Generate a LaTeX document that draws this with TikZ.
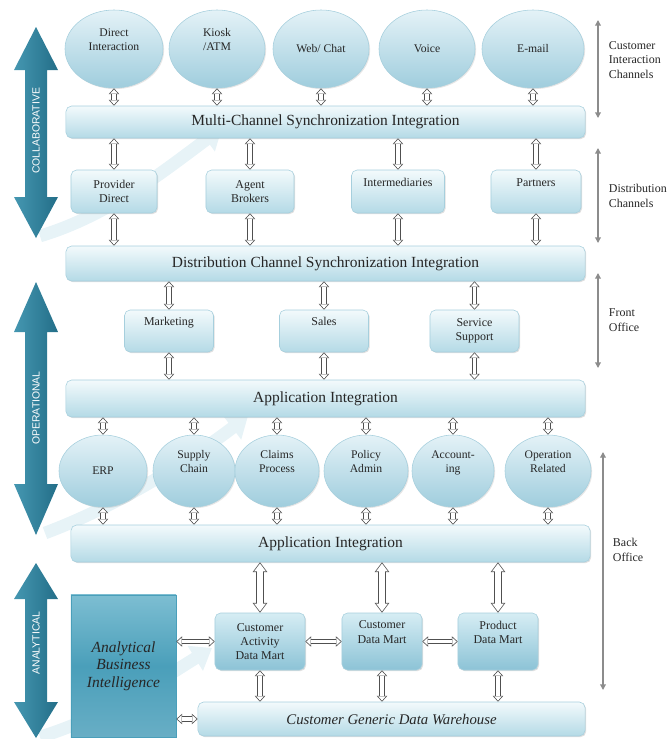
\documentclass[tikz,border=0pt]{standalone}
\usepackage{fontspec}
\setmainfont{Liberation Serif}
\newfontfamily\arrowfont{Liberation Sans}
\usepackage{tikz}
\usetikzlibrary{positioning}
\usetikzlibrary{shapes.geometric,arrows.meta,shadows}

\definecolor{boxtop}{HTML}{F3FAFC}
\definecolor{boxbot}{HTML}{B4DAE6}
\definecolor{boxline}{HTML}{A6CFDD}
\definecolor{elltop}{HTML}{E4F2F7}
\definecolor{ellbot}{HTML}{9FCDDD}
\definecolor{marttop}{HTML}{D6EDF4}
\definecolor{martbot}{HTML}{8CC3D6}
\definecolor{abitop}{HTML}{7DBED2}
\definecolor{abimid}{HTML}{4A9FBA}
\definecolor{abibot}{HTML}{68AEC5}
\definecolor{arrowdark}{HTML}{236E88}
\definecolor{arrowlight}{HTML}{4597B1}
\definecolor{linkgray}{HTML}{505050}
\definecolor{spangray}{HTML}{8C8C8C}
\definecolor{textgray}{HTML}{262626}
\definecolor{swooshblue}{HTML}{E7F3F7}

\tikzset{
  box/.style={rectangle, rounded corners=4pt, draw=boxline, top color=boxtop, bottom color=boxbot,
    align=center, inner sep=0pt, text=textgray, font=\fontsize{8.5}{10.2}\selectfont,
    drop shadow={opacity=0.25, shadow xshift=0.8pt, shadow yshift=-0.8pt}},
  bar/.style={box, minimum width=12.975cm, font=\fontsize{11}{13}\selectfont},
  chan/.style={ellipse, draw=boxline, top color=elltop, bottom color=ellbot, inner sep=0pt,
    align=center, text=textgray, font=\fontsize{8.3}{10.2}\selectfont,
    drop shadow={opacity=0.2, shadow xshift=0.8pt, shadow yshift=-0.8pt}},
  mart/.style={box, top color=marttop, bottom color=martbot, minimum height=1.425cm},
  link/.style={draw=linkgray, line width=3.8pt,
    {Triangle[length=4.2pt,width=7.6pt,line width=0pt]}-{Triangle[length=4.2pt,width=7.6pt,line width=0pt]},
    postaction={draw=white, line width=2.4pt, shorten >=0.8pt, shorten <=0.8pt,
      {Triangle[length=3pt,width=5.4pt,line width=0pt]}-{Triangle[length=3pt,width=5.4pt,line width=0pt]}}},
  biglink/.style={draw=linkgray, line width=5.6pt,
    {Triangle[length=7pt,width=10.5pt,line width=0pt]}-{Triangle[length=7pt,width=10.5pt,line width=0pt]},
    postaction={draw=white, line width=4.2pt, shorten >=0.9pt, shorten <=0.9pt,
      {Triangle[length=5.6pt,width=8.4pt,line width=0pt]}-{Triangle[length=5.6pt,width=8.4pt,line width=0pt]}}},
  span/.style={draw=spangray, line width=0.9pt,
    {Triangle[length=4pt,width=4pt]}-{Triangle[length=4pt,width=4pt]}},
  sidelabel/.style={anchor=west, align=left, text=textgray, font=\fontsize{8.5}{10.3}\selectfont},
  bigarrow/.style={left color=arrowlight, right color=arrowdark},
  arrowtext/.style={rotate=90, text=white, font=\arrowfont\fontsize{7.4}{9}\selectfont},
  swoosh/.style={draw=swooshblue, line width=9pt, -{Triangle[length=14pt,width=20pt]}}
}

\begin{document}
\begin{tikzpicture}[x=0.025cm, y=-0.025cm]
\useasboundingbox (0,0) rectangle (669,739);

% faint swooshes behind the layers
\draw[swoosh] (40,236) .. controls (110,215) and (165,170) .. (222,128);
\draw[swoosh] (45,533) .. controls (120,505) and (190,460) .. (248,416);
\draw[swoosh] (40,737) .. controls (110,715) and (160,680) .. (212,648);

% big arrows on the left
\path[bigarrow] (36,27) -- (58,70) -- (47,70) -- (47,197) -- (58,197) -- (36,238)
  -- (14,197) -- (25,197) -- (25,70) -- (14,70) -- cycle;
\path[bigarrow] (36,282) -- (58,332) -- (47,332) -- (47,484) -- (58,484) -- (36,535)
  -- (14,484) -- (25,484) -- (25,332) -- (14,332) -- cycle;
\path[bigarrow] (36,563) -- (58,599) -- (47,599) -- (47,702) -- (58,702) -- (36,738)
  -- (14,702) -- (25,702) -- (25,599) -- (14,599) -- cycle;
\node (collab) [arrowtext] at (36,131) {COLLABORATIVE};
\node (oper) [arrowtext] at (36,408) {OPERATIONAL};
\node (analyt) [arrowtext] at (36,643) {ANALYTICAL};

% customer interaction channels
\node (ci1) [chan, minimum width=2.45cm, minimum height=1.95cm] at (114,49) {Direct\\Interaction\\\strut};
\node (ci2) [chan, minimum width=2.4cm, minimum height=1.95cm] at (217,49) {Kiosk\\/ATM\\\strut};
\node (ci3) [chan, minimum width=2.4cm, minimum height=1.95cm] at (321,49) {Web/ Chat};
\node (ci4) [chan, minimum width=2.4cm, minimum height=1.95cm] at (427,49) {Voice};
\node (ci5) [chan, minimum width=2.55cm, minimum height=1.95cm] at (533,49) {E-mail};

\node (mcs) [bar, minimum height=0.8cm] at (325.5,122) {Multi-Channel Synchronization Integration};

% distribution channels
\node (pd) [box, minimum width=2.15cm, minimum height=1.075cm] at (114,191.5) {Provider\\Direct};
\node (ab) [box, minimum width=2.2cm, minimum height=1.075cm] at (250,191.5) {Agent\\Brokers};
\node (im) [box, minimum width=2.325cm, minimum height=1.075cm] at (398,191.5) {Intermediaries\\\strut};
\node (pt) [box, minimum width=2.25cm, minimum height=1.075cm] at (536,191.5) {Partners\\\strut};

\node (dcs) [bar, minimum height=0.875cm] at (325.5,263.5) {Distribution Channel Synchronization Integration};

% front office
\node (mk) [box, minimum width=2.225cm, minimum height=1.05cm] at (169,331) {Marketing\\\strut};
\node (sl) [box, minimum width=2.225cm, minimum height=1.05cm] at (324,331) {Sales\\\strut};
\node (ss) [box, minimum width=2.225cm, minimum height=1.05cm] at (474.5,331) {Service\\Support};

\node (ai1) [bar, minimum height=0.925cm] at (325.5,398.5) {Application Integration};

% back office
\node (erp) [chan, minimum width=2.2cm, minimum height=1.8cm] at (103,471) {ERP};
\node (sc) [chan, minimum width=2.05cm, minimum height=1.8cm] at (194,471) {Supply\\Chain\\\strut};
\node (cp) [chan, minimum width=2.1cm, minimum height=1.8cm] at (277,471) {Claims\\Process\\\strut};
\node (pa) [chan, minimum width=2.1cm, minimum height=1.8cm] at (366,471) {Policy\\Admin\\\strut};
\node (ac) [chan, minimum width=2.05cm, minimum height=1.8cm] at (453,471) {Account-\\ing\\\strut};
\node (op) [chan, minimum width=2.15cm, minimum height=1.8cm] at (548,471) {Operation\\Related\\\strut};

\node (ai2) [bar, minimum height=0.925cm] at (330.5,543.5) {Application Integration};

% analytical layer
\node (cadm) [mart, minimum width=2.25cm] at (260,641.5) {Customer\\Activity\\Data Mart};
\node (cdm) [mart, minimum width=2cm] at (382,641.5) {Customer\\Data Mart\\\strut};
\node (pdm) [mart, minimum width=2cm] at (498,641.5) {Product\\Data Mart\\\strut};
\node (abi) [box, rounded corners=0pt, draw=abimid, top color=abitop, bottom color=abibot, middle color=abimid,
  minimum width=2.625cm, minimum height=3.55cm, font=\itshape\fontsize{11}{12.5}\selectfont, text=black!85]
  at (123.5,666) {Analytical\\Business\\Intelligence};
\node (cgw) [box, minimum width=9.675cm, minimum height=0.85cm, font=\itshape\fontsize{10.5}{12}\selectfont]
  at (391.5,719) {Customer Generic Data Warehouse};

% connectors
\foreach \c in {ci1,ci2,ci3,ci4,ci5}
  \draw[link] (\c.south) to (\c.south |- mcs.north);
\foreach \c in {pd,ab,im,pt} {
  \draw[link] (\c.north |- mcs.south) to (\c.north);
  \draw[link] (\c.south) to (\c.south |- dcs.north);
}
\foreach \c in {mk,sl,ss} {
  \draw[link] (\c.north |- dcs.south) to (\c.north);
  \draw[link] (\c.south) to (\c.south |- ai1.north);
}
\foreach \c in {erp,sc,cp,pa,ac,op} {
  \draw[link] (\c.north |- ai1.south) to (\c.north);
  \draw[link] (\c.south) to (\c.south |- ai2.north);
}
\foreach \c in {cadm,cdm,pdm} {
  \draw[biglink] (\c.north |- ai2.south) to (\c.north);
  \draw[link] (\c.south) to (\c.south |- cgw.north);
}
\draw[link] (abi.east |- cadm) to (cadm.west);
\draw[link] (cadm.east) to (cdm.west);
\draw[link] (cdm.east) to (pdm.west);
\draw[link] (abi.east |- cgw) to (cgw.west);

% layer spans on the right
\coordinate (cicTop) at (598,20);
\coordinate (cicBot) at (598,118);
\coordinate (dcTop) at (598,148);
\coordinate (dcBot) at (598,243);
\coordinate (foTop) at (598,273);
\coordinate (foBot) at (598,368);
\coordinate (boTop) at (603,452);
\coordinate (boBot) at (603,690);
\draw[span] (cicTop) to (cicBot);
\draw[span] (dcTop) to (dcBot);
\draw[span] (foTop) to (foBot);
\draw[span] (boTop) to (boBot);
\node (cicLabel) [sidelabel] at (604,60) {Customer\\Interaction\\Channels};
\node (dcLabel) [sidelabel] at (604,196) {Distribution\\Channels};
\node (foLabel) [sidelabel] at (604,320) {Front\\Office};
\node (boLabel) [sidelabel] at (608,550) {Back\\Office};
\end{tikzpicture}
\end{document}
